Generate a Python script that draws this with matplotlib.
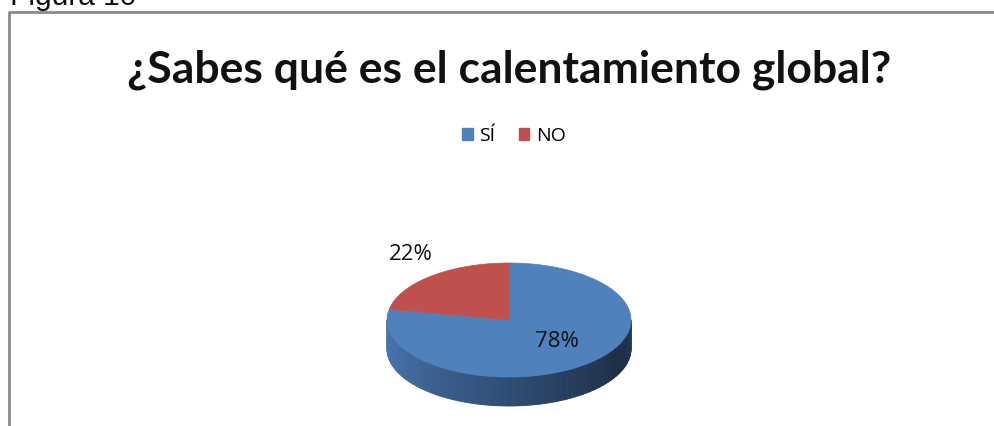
import numpy as np
import matplotlib.pyplot as plt
from matplotlib.patches import Polygon, Patch
from matplotlib.lines import Line2D
import matplotlib.colors as mcolors

caption = "Figura 10"
title = "¿Sabes qué es el calentamiento global?"
categories = ["SÍ", "NO"]
values = [78, 22]
labels = ["78%", "22%"]
colors = ["#4F81BD", "#C0504D"]

W, H = 995, 426
fig = plt.figure(figsize=(W / 100, H / 100), dpi=100)
ax = fig.add_axes([0, 0, 1, 1])
ax.set_xlim(0, W)
ax.set_ylim(H, 0)
ax.axis("off")

# frame
ax.add_line(Line2D([9, 9, W + 5], [H + 5, 12, 12], color="#8a8a8a", lw=2.0))

fig.text(10 / W, 1 - 5 / H, caption, fontsize=21.5, family="Liberation Sans",
         va="baseline", ha="left", color="#111111")

ax.text(509, 82, title, fontsize=32, fontweight="bold", family="Lato",
        ha="center", va="baseline", color="#111111")

# pie geometry
cx, cy, rx, ry, depth = 509, 320, 122, 57, 29

def pt(theta_deg, r=1.0):
    t = np.radians(theta_deg)
    return cx + rx * r * np.cos(t), cy - ry * r * np.sin(t)

total = sum(values)
# slices go clockwise starting from top (90 deg)
starts, ends = [], []
a = 90.0
for v in values:
    b = a - 360.0 * v / total
    starts.append(a)
    ends.append(b)
    a = b

# side wall (front half, 180..360) with gradient
side_base = mcolors.to_rgb("#4A7AB5")
side_dark = mcolors.to_rgb("#1C2D45")
n = 120
th = np.linspace(180, 360, n + 1)
for i in range(n):
    x0, y0 = pt(th[i])
    x1, y1 = pt(th[i + 1])
    frac = i / n
    f = min(1.0, frac / 0.85)
    if frac > 0.85:
        f = 1.0 - (frac - 0.85) * 1.2
    col = tuple(side_base[k] * (1 - f) + side_dark[k] * f for k in range(3))
    poly = Polygon([(x0, y0), (x1, y1), (x1, y1 + depth), (x0, y0 + depth)],
                   closed=True, facecolor=col, edgecolor=col, lw=0.6)
    ax.add_patch(poly)

# top faces
for s, e, c in zip(starts, ends, colors):
    angs = np.linspace(s, e, 200)
    xs, ys = pt(angs)
    verts = [(cx, cy)] + list(zip(xs, ys))
    ax.add_patch(Polygon(verts, closed=True, facecolor=c, edgecolor=c, lw=0.5))

# data labels
lab_fac = [(0.62, 0.48), (1.26, 1.5)]
for s, e, lab, (fx, fy) in zip(starts, ends, labels, lab_fac):
    m = np.radians((s + e) / 2)
    x = cx + rx * fx * np.cos(m)
    y = cy - ry * fy * np.sin(m)
    ax.text(x, y, lab, fontsize=16, family="Open Sans", ha="center",
            va="center", color="#111111")

handles = [Patch(facecolor=c, edgecolor=c) for c in colors]
fig.legend(handles, categories, loc="center", bbox_to_anchor=(514 / W, 1 - 136 / H),
           ncol=2, frameon=False, handlelength=0.55, handleheight=0.55,
           handletextpad=0.35, columnspacing=1.2,
           prop={"family": "Open Sans", "size": 14})

fig.savefig("out.png", dpi=100)
